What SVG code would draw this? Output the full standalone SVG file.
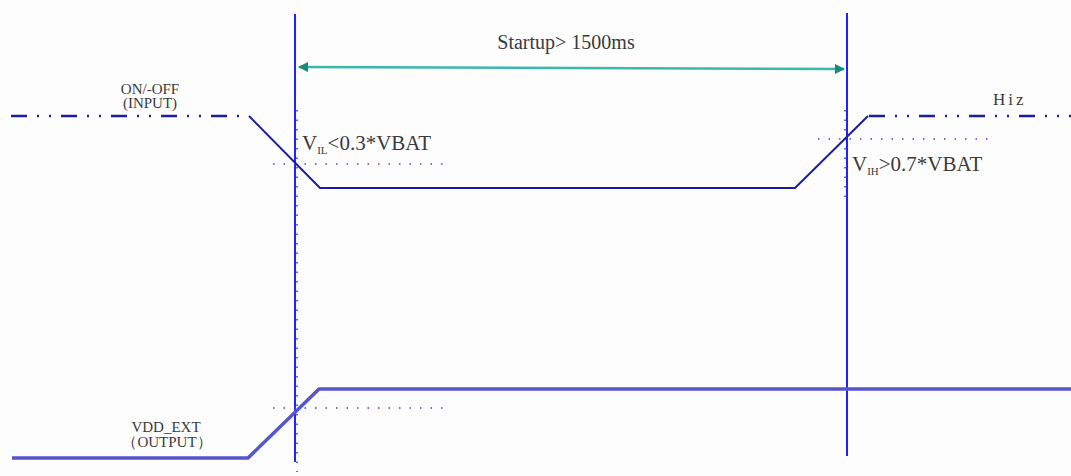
<svg xmlns="http://www.w3.org/2000/svg" width="1071" height="476" viewBox="0 0 1071 476">
<style>
.t{font-family:"Liberation Serif","Times New Roman",serif;fill:#3a3a3a}
.vline{stroke:#2222ff;stroke-width:2;fill:none}
.vdot{stroke:#3333dd;stroke-width:1.5;stroke-dasharray:1.5 8;fill:none}
.hdot{stroke:#4444dd;stroke-width:1.5;stroke-dasharray:1.5 9;fill:none}
.in{stroke:#1c1ca0;stroke-width:2;fill:none}
.indash{stroke:#1c1ca0;stroke-width:2.5;fill:none;stroke-dasharray:16 10 2 10 2 10}
.out{stroke:#5555cc;stroke-width:3.5;fill:none}
</style>
<defs>
<marker id="ah" viewBox="0 0 10 10" refX="9" refY="5" markerWidth="10" markerHeight="10" markerUnits="userSpaceOnUse" orient="auto-start-reverse">
<path d="M0,0 L10,5 L0,10 Z" fill="#1a8a7a"/>
</marker>
</defs>
<rect width="1071" height="476" fill="#fdfdfd"/>
<g id="connectors">
<line class="vdot" x1="297" y1="110" x2="297" y2="472"/>
<line class="vdot" x1="845" y1="110" x2="845" y2="200"/>
<line class="vline" x1="295" y1="14" x2="295" y2="462"/>
<line class="vline" x1="847" y1="13" x2="847" y2="456"/>
<line x1="299" y1="67" x2="844" y2="69" stroke="#3bb8ac" stroke-width="2.5" marker-start="url(#ah)" marker-end="url(#ah)"/>
<line class="hdot" x1="273" y1="164" x2="450" y2="164"/>
<line class="hdot" x1="818" y1="139" x2="995" y2="139"/>
<line class="hdot" x1="273" y1="408" x2="450" y2="408"/>
</g>
<g id="input">
<line class="indash" x1="11" y1="116" x2="248" y2="116"/>
<polyline class="in" points="249,116 320,188 795,188 868,116"/>
<line class="indash" x1="869" y1="116" x2="1071" y2="116"/>
</g>
<g id="output">
<polyline class="out" points="12,458 248,458 319,389 1071,389"/>
</g>
<g id="labels">
<text class="t" x="566" y="49" font-size="20" text-anchor="middle">Startup&gt; 1500ms</text>
<text class="t" x="150" y="94" font-size="15" text-anchor="middle">ON/-OFF</text>
<text class="t" x="150" y="108" font-size="15" text-anchor="middle">(INPUT)</text>
<text class="t" x="993" y="105" font-size="17" letter-spacing="3">Hiz</text>
<text class="t" x="302" y="150" font-size="21">V<tspan font-size="11" dy="4">IL</tspan><tspan dy="-4">&lt;0.3*VBAT</tspan></text>
<text class="t" x="852" y="171" font-size="21">V<tspan font-size="11" dy="4">IH</tspan><tspan dy="-4">&gt;0.7*VBAT</tspan></text>
<text class="t" x="166" y="432" font-size="15" text-anchor="middle">VDD_EXT</text>
<text class="t" x="167" y="447" font-size="15" text-anchor="middle">（OUTPUT）</text>
</g>
</svg>
